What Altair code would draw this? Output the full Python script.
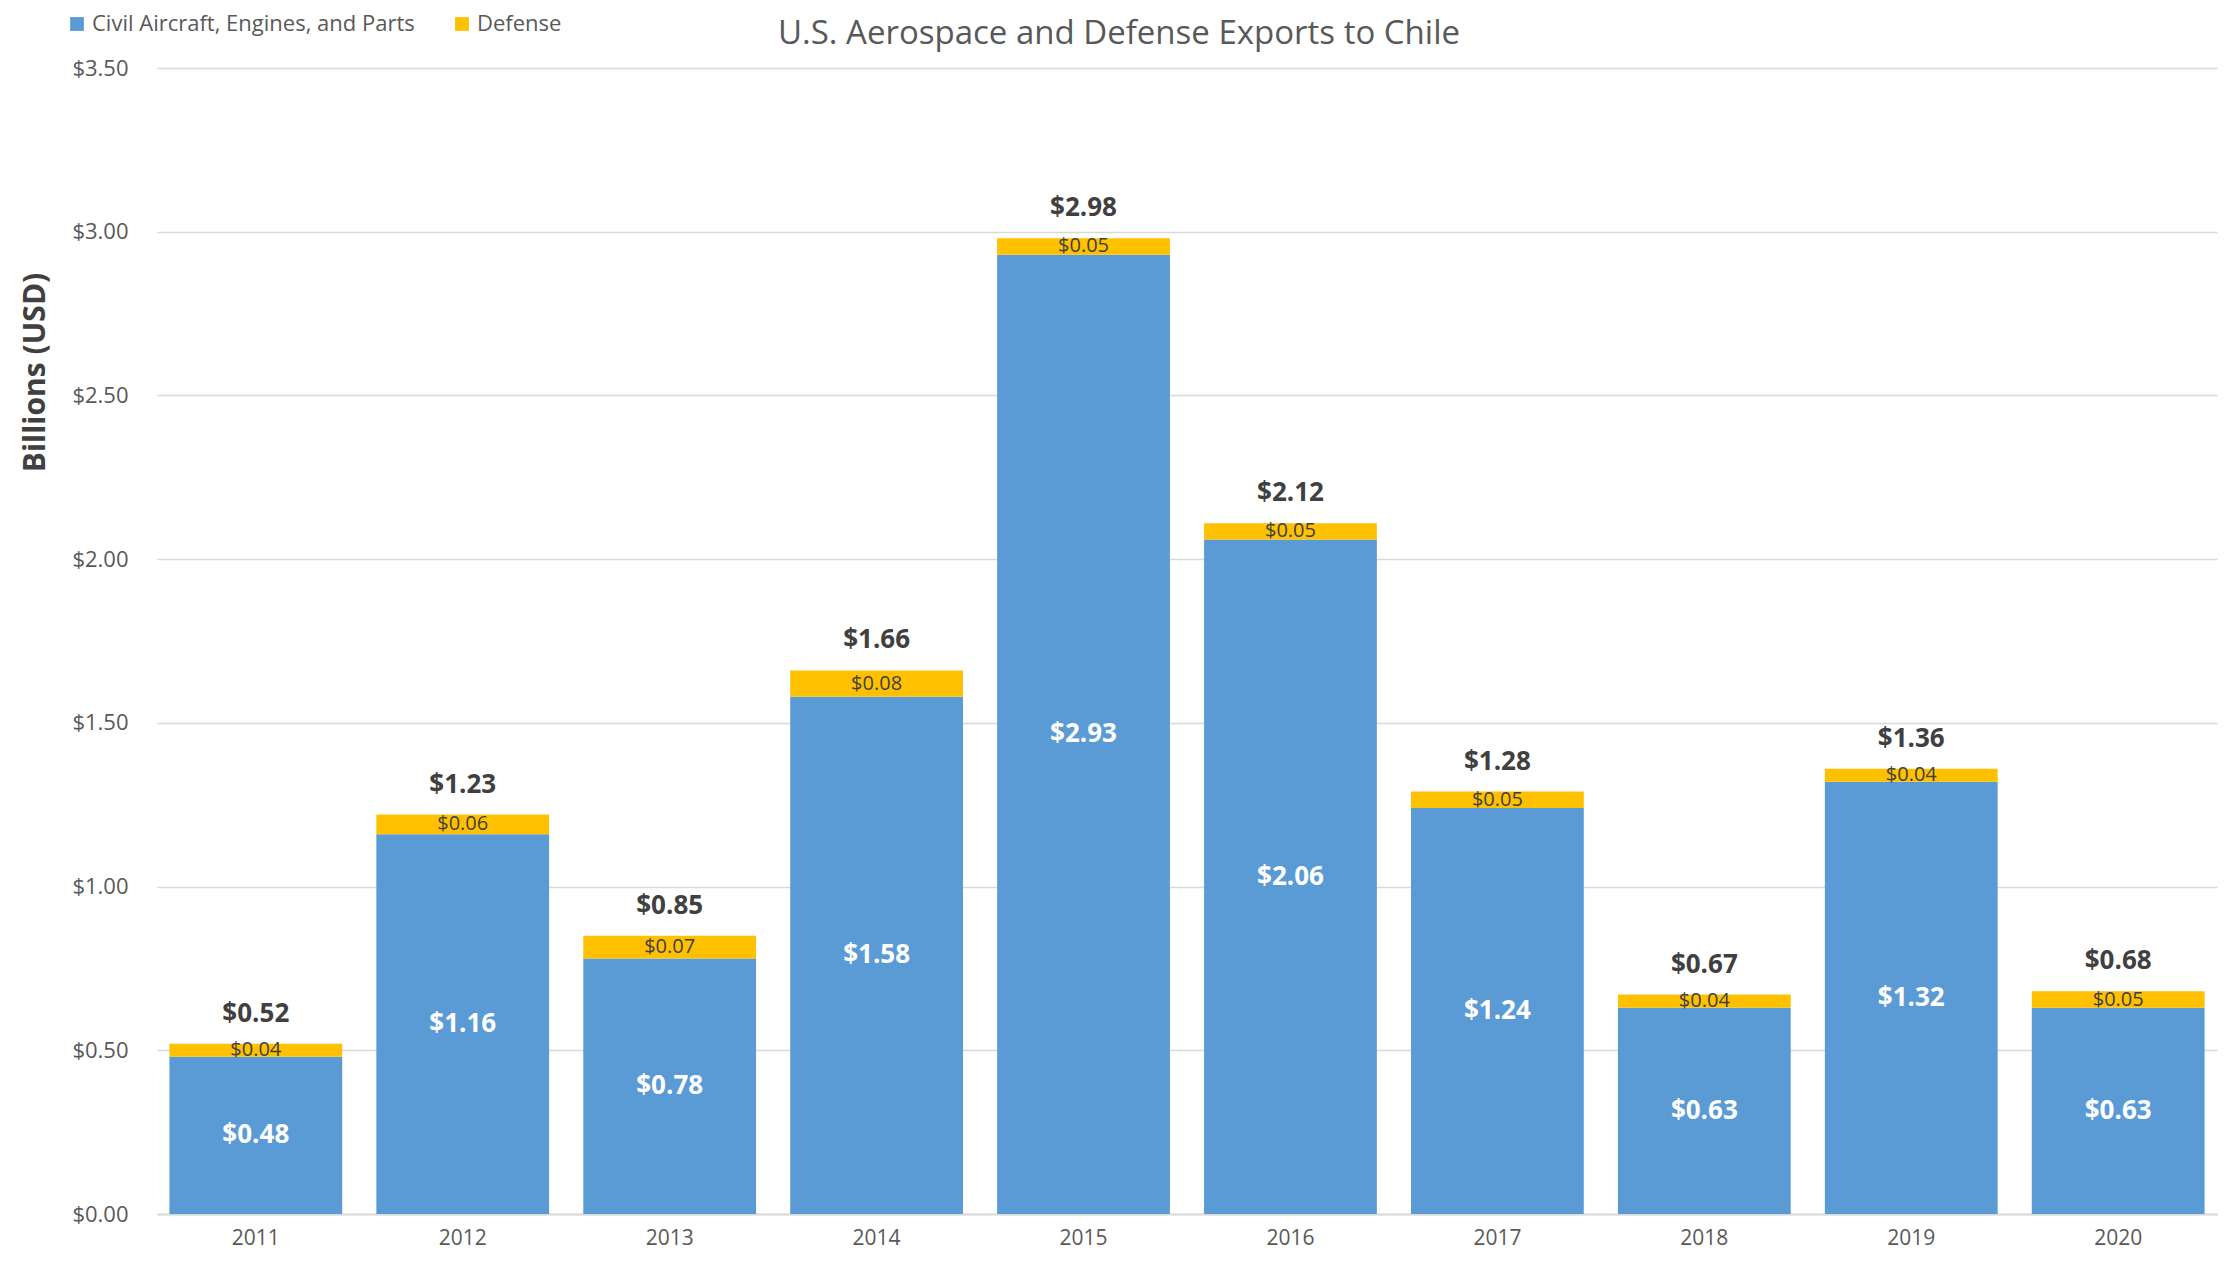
import altair as alt
import pandas as pd

years = ["2011", "2012", "2013", "2014", "2015", "2016", "2017", "2018", "2019", "2020"]
civil = [0.48, 1.16, 0.78, 1.58, 2.93, 2.06, 1.24, 0.63, 1.32, 0.63]
defense = [0.04, 0.06, 0.07, 0.08, 0.05, 0.05, 0.05, 0.04, 0.04, 0.05]
totals = [0.52, 1.23, 0.85, 1.66, 2.98, 2.12, 1.28, 0.67, 1.36, 0.68]
series_names = ["Civil Aircraft, Engines, and Parts", "Defense"]
series_colors = ["#5B9BD5", "#FFC000"]

rows = []
for i, yr in enumerate(years):
    rows.append(dict(year=yr, series=series_names[0], value=civil[i], lo=0.0,
                     hi=civil[i], mid=civil[i] / 2, total=totals[i]))
    rows.append(dict(year=yr, series=series_names[1], value=defense[i], lo=civil[i],
                     hi=civil[i] + defense[i], mid=civil[i] + defense[i] / 2, total=totals[i]))
df = pd.DataFrame(rows)

FONT = "Open Sans"

x = alt.X("year:N", title=None, sort=years,
          scale=alt.Scale(paddingInner=0.165, paddingOuter=0.06),
          axis=alt.Axis(labelAngle=0, labelColor="#595959", labelFontSize=21, labelFont=FONT,
                        ticks=False, domainColor="#d9d9d9", domainWidth=2, labelPadding=13,
                        grid=False))

y_scale = alt.Scale(domain=[0, 3.5], nice=False)

bars = alt.Chart(df).mark_bar().encode(
    x=x,
    y=alt.Y("lo:Q", scale=y_scale, title="Billions (USD)",
            axis=alt.Axis(values=[0, 0.5, 1, 1.5, 2, 2.5, 3, 3.5], format="$.2f",
                          labelColor="#595959", labelFontSize=22, labelFont=FONT,
                          labelPadding=29, ticks=False, domain=False,
                          gridColor="#d9d9d9", gridWidth=1.5,
                          titleFont=FONT, titleFontSize=30, titleFontWeight="bold",
                          titleColor="#404040", titleX=-122, titleY=304,
                          titleAngle=270, titleAlign="center", titleBaseline="middle")),
    y2="hi:Q",
    color=alt.Color("series:N", sort=series_names,
                    scale=alt.Scale(domain=series_names, range=series_colors),
                    legend=alt.Legend(title=None, orient="none", direction="horizontal",
                                      legendX=-91, legendY=-55, symbolType="square",
                                      symbolSize=190, symbolStrokeWidth=0, labelLimit=600,
                                      labelFont=FONT, labelFontSize=22, labelColor="#595959",
                                      columnPadding=36, labelOffset=4)),
)

civil_text = alt.Chart(df).transform_filter(
    alt.datum.series == series_names[0]
).mark_text(font=FONT, fontSize=26, fontWeight="bold", color="white", baseline="middle").encode(
    x=alt.X("year:N", sort=years),
    y=alt.Y("mid:Q", scale=y_scale),
    text=alt.Text("value:Q", format="$.2f"),
)

def_text = alt.Chart(df).transform_filter(
    alt.datum.series == series_names[1]
).mark_text(font=FONT, fontSize=20, color="#404040", baseline="middle").encode(
    x=alt.X("year:N", sort=years),
    y=alt.Y("mid:Q", scale=y_scale),
    text=alt.Text("value:Q", format="$.2f"),
)

tot_text = alt.Chart(df).transform_filter(
    alt.datum.series == series_names[1]
).mark_text(font=FONT, fontSize=26, fontWeight="bold", color="#404040", baseline="bottom", dy=-17).encode(
    x=alt.X("year:N", sort=years),
    y=alt.Y("hi:Q", scale=y_scale),
    text=alt.Text("total:Q", format="$.2f"),
)

chart = alt.layer(bars, civil_text, def_text, tot_text).properties(
    width=2060,
    height=1146,
    padding={"left": 149, "top": 60, "right": 4, "bottom": 40},
    autosize=alt.AutoSizeParams(type="none"),
    title=alt.TitleParams("U.S. Aerospace and Defense Exports to Chile", font=FONT, fontSize=33,
                          fontWeight="normal", color="#595959", anchor="middle", dx=-68,
                          offset=26, dy=64),
).configure_view(stroke=None)

chart.save("out.html", embed_options={"renderer": "svg", "actions": False})
